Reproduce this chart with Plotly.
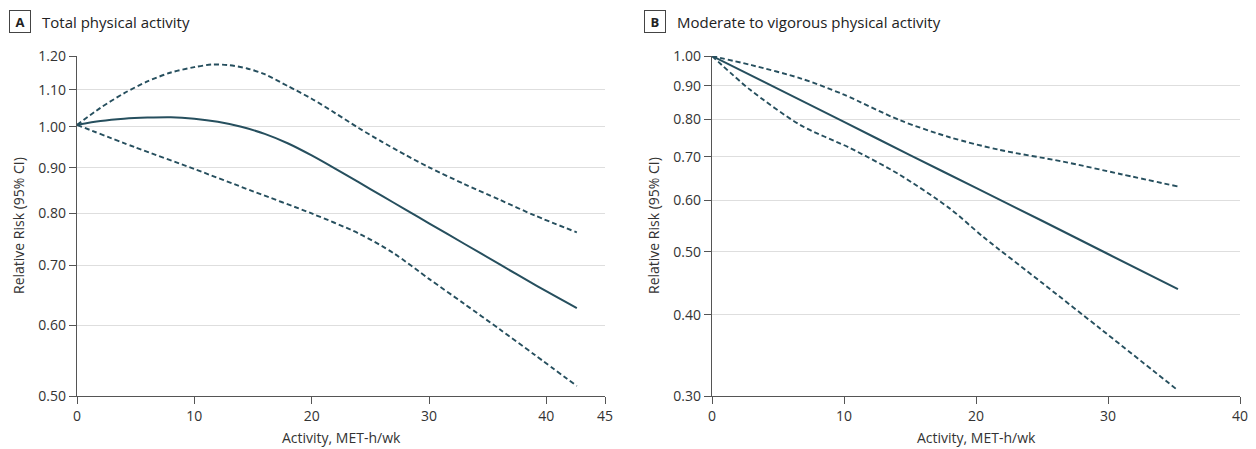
import math
import plotly.graph_objects as go

# Panel A: Total physical activity
a_x = [0, 2, 4, 6, 8, 10, 12, 14, 16, 18, 20, 22, 24, 26, 28, 30, 33, 36, 39, 42.6]
a_rr = [1.005, 1.015, 1.021, 1.024, 1.025, 1.021, 1.013, 1.0, 0.982, 0.958, 0.929, 0.898, 0.867, 0.837, 0.808, 0.780, 0.740, 0.702, 0.666, 0.627]
a_hi_x = [0, 2, 4, 6, 8, 10, 11.5, 13, 14.5, 16, 18, 20, 22, 24, 26, 28, 30, 33, 36, 39, 42.6]
a_hi = [1.005, 1.05, 1.09, 1.124, 1.15, 1.166, 1.174, 1.172, 1.162, 1.145, 1.11, 1.075, 1.036, 0.997, 0.962, 0.93, 0.901, 0.863, 0.829, 0.796, 0.762]
a_lo_x = [0, 5, 10, 15, 20, 24, 27, 30, 33, 36, 39, 42.6]
a_lo = [1.005, 0.948, 0.897, 0.847, 0.80, 0.76, 0.722, 0.676, 0.634, 0.594, 0.556, 0.513]

# Panel B: Moderate to vigorous physical activity
b_x = [0, 5, 10, 15, 20, 25, 30, 35.3]
b_rr = [1.0, 0.89, 0.792, 0.704, 0.627, 0.558, 0.496, 0.438]
b_hi_x = [0, 3, 6.7, 10, 14.2, 18, 21.8, 26.6, 31, 35.3]
b_hi = [1.0, 0.968, 0.924, 0.872, 0.797, 0.75, 0.717, 0.688, 0.658, 0.63]
b_lo_x = [0, 2.9, 6.7, 10.45, 14.2, 18, 20.55, 25, 29.4, 35.3]
b_lo = [1.0, 0.887, 0.783, 0.722, 0.657, 0.583, 0.527, 0.448, 0.381, 0.306]

a_yticks = [0.5, 0.6, 0.7, 0.8, 0.9, 1.0, 1.1, 1.2]
b_yticks = [0.3, 0.4, 0.5, 0.6, 0.7, 0.8, 0.9, 1.0]
a_xticks = [0, 10, 20, 30, 40, 45]
b_xticks = [0, 10, 20, 30, 40]

COL = "#264f5e"
FONT = "Open Sans"
W, H = 1256, 449
L, R, T, B = 77, 16, 56, 53
PW = W - L - R
PH = H - T - B

fig = go.Figure()

def add(x, y, xa, ya, solid):
    fig.add_trace(go.Scatter(x=x, y=y, mode="lines", xaxis=xa, yaxis=ya,
                             line=dict(color=COL, width=2 if solid else 1.9,
                                       dash="solid" if solid else "5px,3px",
                                       shape="spline", smoothing=0.8),
                             showlegend=False, hoverinfo="skip"))

add(a_hi_x, a_hi, "x", "y", False)
add(a_lo_x, a_lo, "x", "y", False)
add(a_x, a_rr, "x", "y", True)
add(b_hi_x, b_hi, "x2", "y2", False)
add(b_lo_x, b_lo, "x2", "y2", False)
add(b_x, b_rr, "x2", "y2", True)

axcommon = dict(showline=True, linecolor="#555", linewidth=1.3, ticks="outside",
                ticklen=7, tickcolor="#555", automargin=False,
                tickfont=dict(family=FONT, size=14, color="#333"), zeroline=False)

a_dom = [0, (605 - L) / PW]
b_dom = [(712 - L) / PW, 1]

fig.update_layout(
    width=W, height=H,
    margin=dict(l=L, r=R, t=T, b=B),
    paper_bgcolor="white", plot_bgcolor="white",
    font=dict(family=FONT, size=14, color="#333"),
    xaxis=dict(domain=a_dom, range=[0, 45], tickvals=a_xticks, showgrid=False, anchor="y", **axcommon),
    yaxis=dict(domain=[0, 1], type="log", range=[math.log10(0.5), math.log10(1.2)],
               tickvals=a_yticks, ticktext=[f"{v:.2f}" for v in a_yticks],
               showgrid=True, gridcolor="#dedede", gridwidth=1.3, anchor="x", **axcommon),
    xaxis2=dict(domain=b_dom, range=[0, 40], tickvals=b_xticks, showgrid=False, anchor="y2", **axcommon),
    yaxis2=dict(domain=[0, 1], type="log", range=[math.log10(0.3), math.log10(1.0)],
                tickvals=b_yticks, ticktext=[f"{v:.2f}" for v in b_yticks],
                showgrid=True, gridcolor="#dedede", gridwidth=1.3, anchor="x2", **axcommon),
)

def px_x(px):
    return (px - L) / PW

def px_y(py):
    return (H - B - py) / PH

# axis titles
for cx in (341, 976):
    fig.add_annotation(x=px_x(cx), y=px_y(437), xref="paper", yref="paper", text="Activity, MET-h/wk",
                       showarrow=False, xanchor="center", yanchor="middle",
                       font=dict(family=FONT, size=14, color="#333"))
for cx in (18, 653):
    fig.add_annotation(x=px_x(cx), y=px_y(226), xref="paper", yref="paper", text="Relative Risk (95% CI)",
                       showarrow=False, xanchor="center", yanchor="middle", textangle=-90,
                       font=dict(family=FONT, size=14, color="#333"))

# panel labels
for lx, letter, tx, text in [(9, "A", 40, "Total physical activity"),
                             (644, "B", 675, "Moderate to vigorous physical activity")]:
    fig.add_annotation(x=px_x(lx), y=px_y(22), xref="paper", yref="paper", xanchor="left",
                       yanchor="middle", text=f"<b>{letter}</b>", showarrow=False,
                       font=dict(family=FONT, size=13, color="#222"),
                       bordercolor="#444", borderwidth=1, borderpad=2, width=16, height=17)
    fig.add_annotation(x=px_x(tx), y=px_y(22), xref="paper", yref="paper", xanchor="left",
                       yanchor="middle", text=text, showarrow=False,
                       font=dict(family=FONT, size=15, color="#222"))

fig.write_html("out.html", config={"displayModeBar": False},
               post_script="document.body.style.margin='0';")
